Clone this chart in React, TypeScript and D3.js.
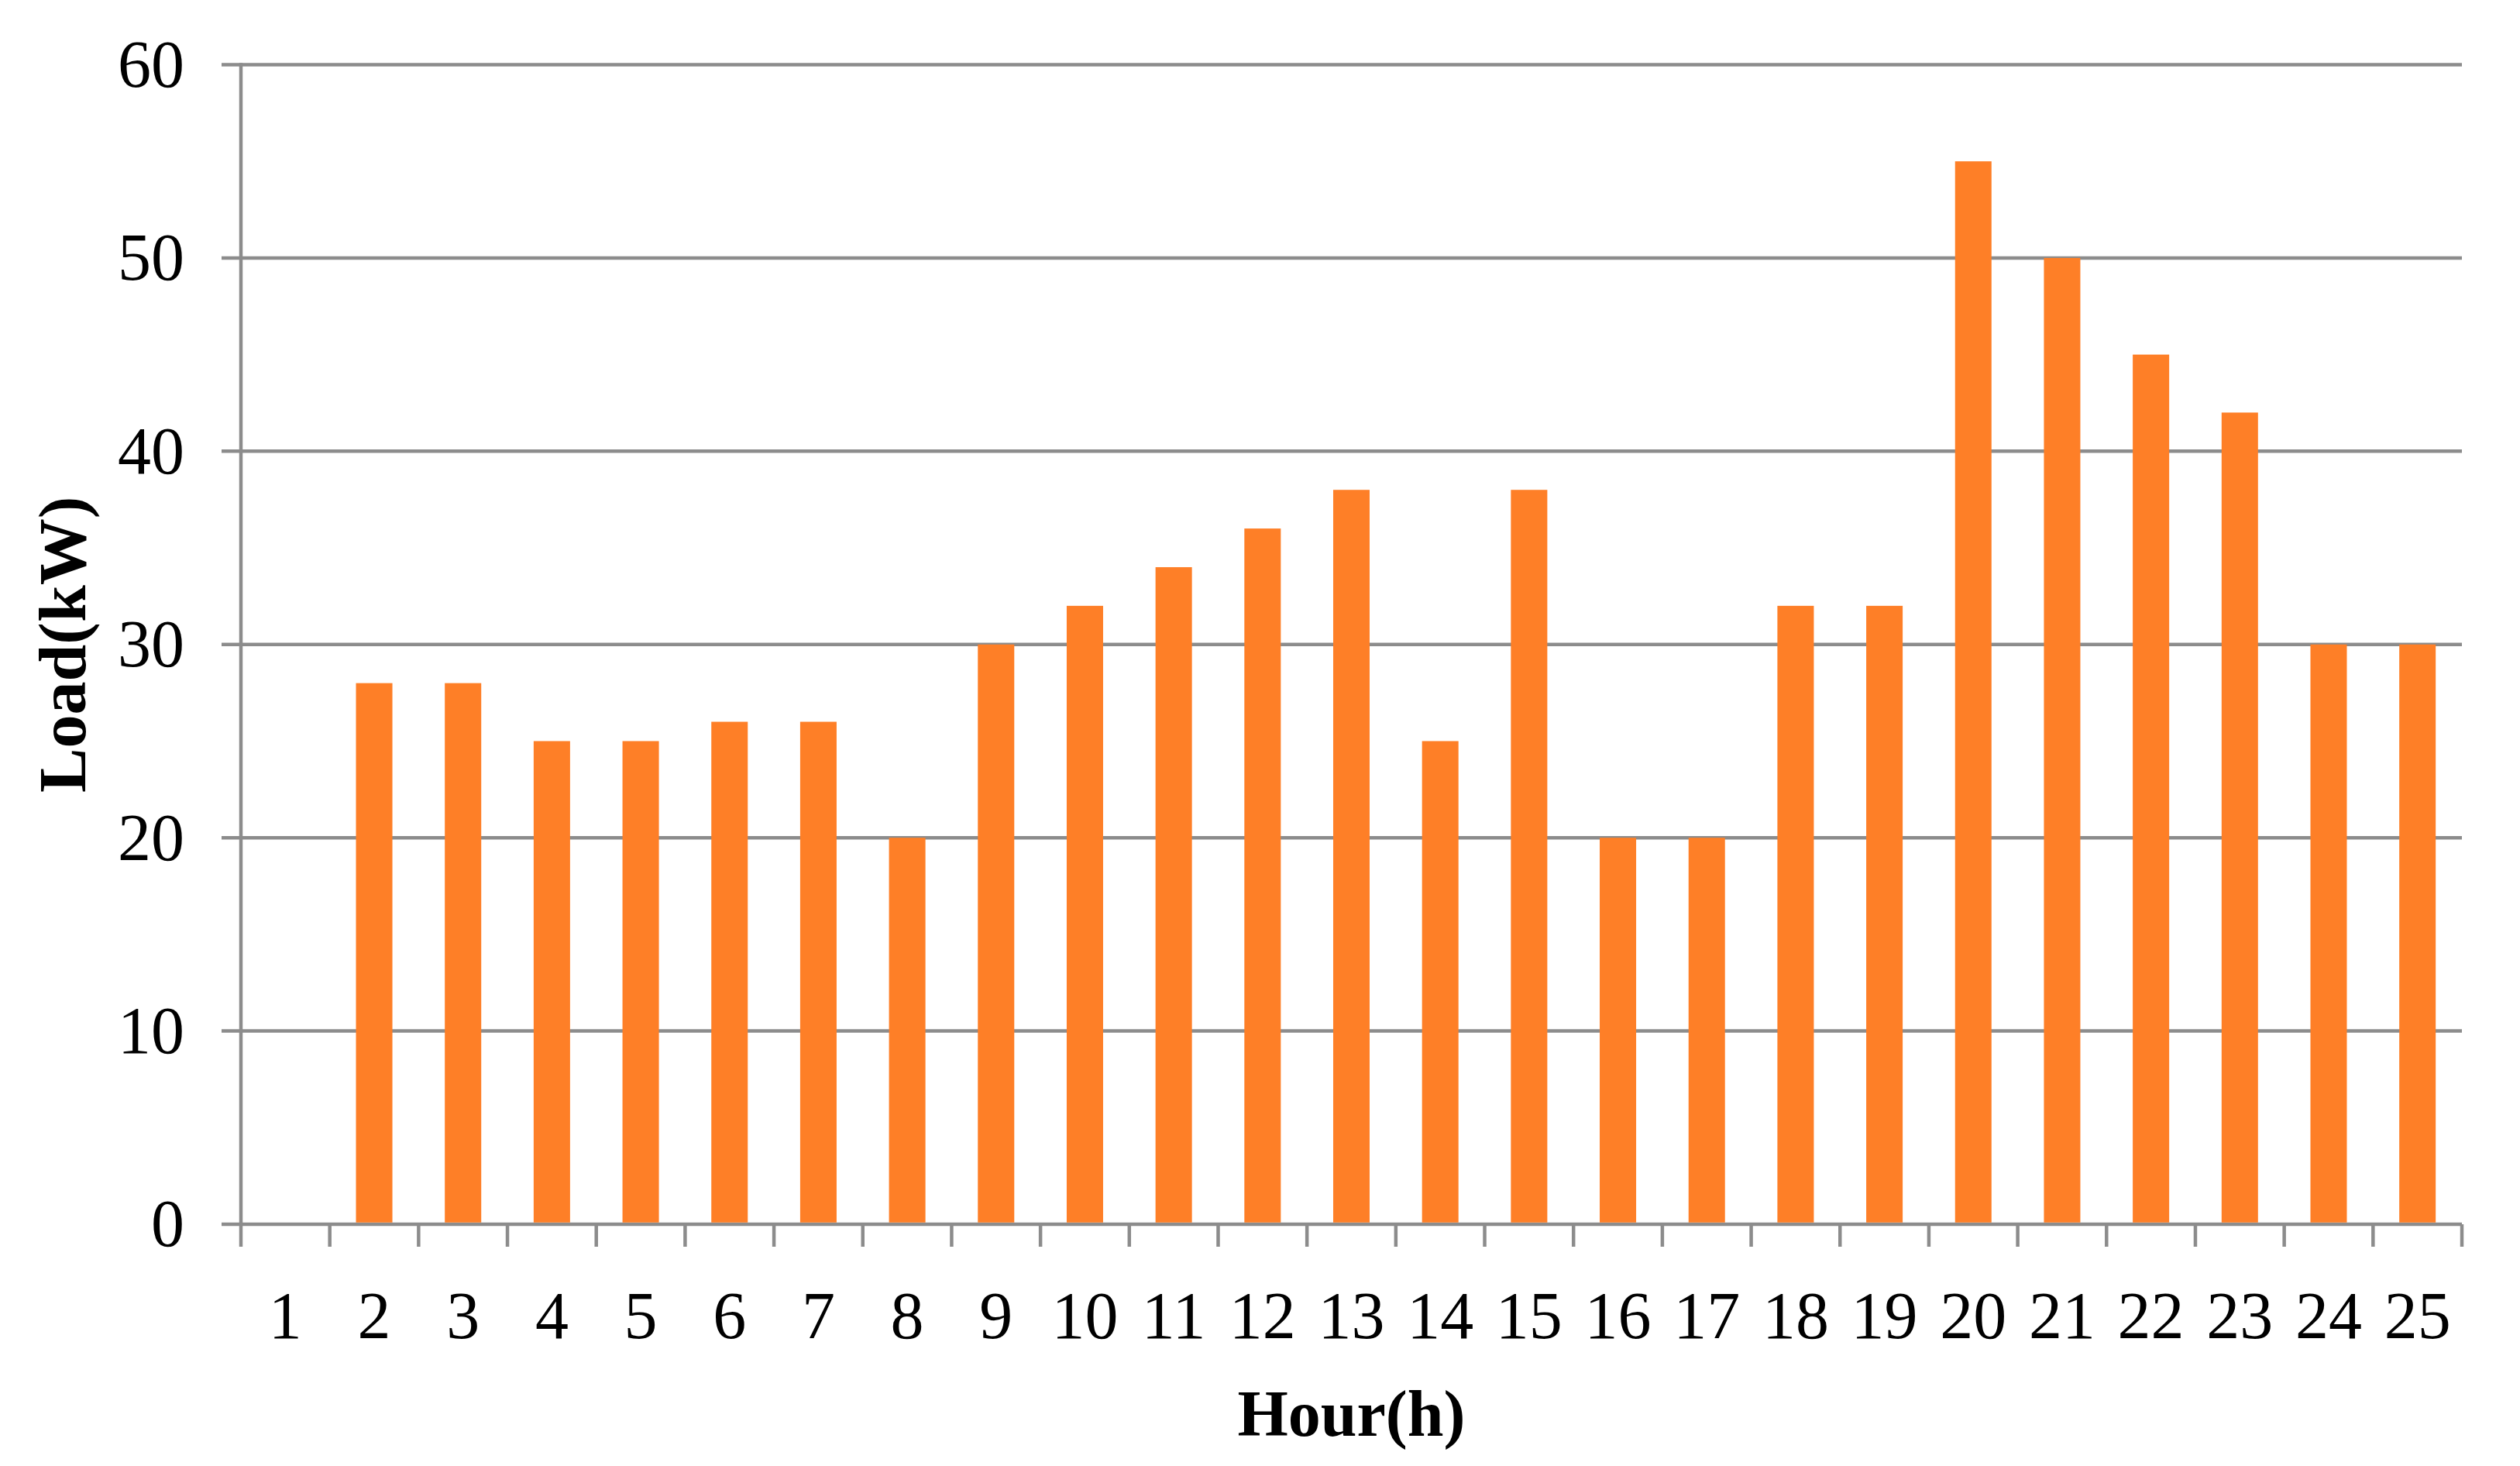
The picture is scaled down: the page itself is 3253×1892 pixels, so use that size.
import React from 'react';
import * as d3 from 'd3';

// data
const hours = ['1', '2', '3', '4', '5', '6', '7', '8', '9', '10', '11', '12', '13', '14', '15', '16', '17', '18', '19', '20', '21', '22', '23', '24', '25'];
const loads = [0, 28, 28, 25, 25, 26, 26, 20, 30, 32, 34, 36, 38, 25, 38, 20, 20, 32, 32, 55, 50, 45, 42, 30, 30];
const yTicks = [0, 10, 20, 30, 40, 50, 60];

const W = 3253;
const H = 1892;
const margin = { top: 83.5, right: 75, bottom: 312, left: 311 };
const gridColor = '#8c8c8c';
const barColor = '#fe7f27';
const font = '"Liberation Serif", "Times New Roman", serif';

const App = () => {
  const innerW = W - margin.left - margin.right;
  const innerH = H - margin.top - margin.bottom;

  const x = d3.scaleBand<string>().domain(hours).range([0, innerW]).paddingInner(0.59).paddingOuter(0.295);
  const cat = d3.scaleBand<string>().domain(hours).range([0, innerW]);
  const y = d3.scaleLinear().domain([0, 60]).range([innerH, 0]);

  const boundaries = hours.map((h) => cat(h)!).concat([innerW]);

  return (
    <svg width={W} height={H} style={{ position: 'absolute', left: 0, top: 0, background: '#fff' }}>
      <g transform={`translate(${margin.left},${margin.top})`}>
        {/* gridlines */}
        {yTicks.map((t) => (
          <line key={'g' + t} x1={-25} x2={innerW} y1={y(t)} y2={y(t)} stroke={gridColor} strokeWidth={4.5} />
        ))}
        {/* y axis line */}
        <line x1={0} x2={0} y1={y(60) - 2.25} y2={y(0)} stroke={gridColor} strokeWidth={4.5} />
        {/* x ticks */}
        {boundaries.map((b, i) => (
          <line key={'t' + i} x1={b} x2={b} y1={y(0)} y2={y(0) + 29} stroke={gridColor} strokeWidth={4.5} />
        ))}
        {/* bars */}
        {loads.map((v, i) => (
          <rect key={'b' + i} x={x(hours[i])} y={y(v)} width={x.bandwidth()} height={y(0) - y(v) - 2.25} fill={barColor} />
        ))}
        {/* y labels */}
        {yTicks.map((t) => (
          <text key={'y' + t} x={-73} y={y(t)} dy="0.33em" textAnchor="end" fontFamily={font} fontSize={86}>
            {t}
          </text>
        ))}
        {/* x labels */}
        {hours.map((h) => (
          <text key={'x' + h} x={cat(h)! + cat.bandwidth() / 2} y={1727 - margin.top} textAnchor="middle" fontFamily={font} fontSize={86}>
            {h}
          </text>
        ))}
        <text x={innerW / 2} y={1853 - margin.top} textAnchor="middle" fontFamily={font} fontSize={84} fontWeight="bold">
          Hour(h)
        </text>
        <text
          transform={`translate(${110 - margin.left},${innerH / 2}) rotate(-90)`}
          textAnchor="middle"
          fontFamily={font}
          fontSize={86}
          fontWeight="bold"
        >
          Load(kW)
        </text>
      </g>
    </svg>
  );
};

export default App;
